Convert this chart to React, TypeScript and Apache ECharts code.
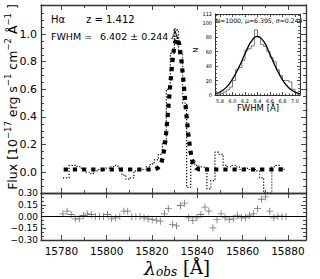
import React, { useEffect, useRef } from "react";
import * as echarts from "echarts";

// ---- data ----
const wavelengths = [
  15780.7, 15782.5, 15784.3, 15786.1, 15787.9, 15789.7, 15791.4, 15793.2, 15795.0, 15796.8,
  15798.6, 15800.4, 15802.2, 15804.0, 15805.8, 15807.6, 15809.3, 15811.1, 15812.9, 15814.7,
  15816.5, 15818.3, 15820.1, 15821.9, 15823.7, 15825.5, 15827.2, 15829.0, 15830.8, 15832.6,
  15834.4, 15836.2, 15838.0, 15839.8, 15841.6, 15843.4, 15845.1, 15846.9, 15848.7, 15850.5,
  15852.3, 15854.1, 15855.9, 15857.7, 15859.5, 15861.3, 15863.0, 15864.8, 15866.6, 15868.4,
  15870.2, 15872.0, 15873.8, 15875.6, 15877.4, 15879.2,
];
const fluxObs = [
  -0.04, -0.04, 0.05, 0.05, 0.04, 0.02, 0.0, -0.01, 0.01, 0.02,
  0.02, 0.03, 0.04, 0.05, 0.03, -0.02, -0.05, -0.04, 0.01, 0.02,
  0.02, 0.04, 0.06, 0.09, 0.13, 0.22, 0.6, 0.86, 1.03, 0.86,
  0.5, -0.11, 0.09, 0.05, 0.04, 0.035, -0.12, -0.06, 0.145, 0.13,
  0.05, 0.04, 0.05, 0.04, 0.02, 0.03, 0.02, 0.02, 0.01, -0.04,
  -0.15, -0.15, 0.04, 0.05, 0.03, 0.02,
];
const residuals = [
  0.034, 0.068, 0.026, -0.03, -0.03, 0.013, 0.034, 0.026, 0, 0,
  0, 0.026, -0.03, -0.017, 0, 0.068, 0.068, 0, 0, 0,
  -0.017, -0.03, -0.04, -0.047, -0.06, 0.034, 0.1, -0.1, -0.12, 0.14,
  0.17, -0.017, -0.05, -0.017, 0.026, 0.12, 0.068, -0.145, -0.04, 0.034,
  -0.017, -0.04, -0.03, 0.017, -0.017, -0.017, 0.017, 0.034, 0.1, 0.22,
  0.25, 0.068, -0.017, 0.004, 0.004, 0,
];
const modelWave = [15781, 15821, 15822.5, 15824, 15825, 15826, 15827, 15828, 15829, 15830, 15831, 15832, 15833, 15834, 15835, 15836, 15837, 15838, 15839.5, 15841, 15878];
const modelFlux = [0.02, 0.02, 0.03, 0.06, 0.12, 0.24, 0.42, 0.62, 0.8, 0.93, 0.97, 0.93, 0.81, 0.64, 0.45, 0.28, 0.15, 0.07, 0.03, 0.02, 0.02];

const xTicks = [15780, 15800, 15820, 15840, 15860, 15880];
const xMinorTicks = [15790, 15810, 15830, 15850, 15870];
const fluxTicks = [0, 0.2, 0.4, 0.6, 0.8, 1.0];
const fluxMinorTicks = [-0.1, -0.05, 0.05, 0.1, 0.15, 0.25, 0.3, 0.35, 0.45, 0.5, 0.55, 0.65, 0.7, 0.75, 0.85, 0.9, 0.95, 1.05, 1.1, 1.15];
const residTicks = [-0.3, -0.15, 0, 0.15, 0.3];
const residMinorTicks = [-0.25, -0.2, -0.1, -0.05, 0.05, 0.1, 0.2, 0.25];

const histEdges = [5.75, 5.8, 5.85, 5.9, 5.95, 6.0, 6.05, 6.1, 6.15, 6.2, 6.25, 6.3, 6.35, 6.4, 6.45, 6.5, 6.55, 6.6, 6.65, 6.7, 6.75, 6.8, 6.85, 6.9, 6.95, 7.0, 7.05];
const histCounts = [1, 2, 4, 7, 11, 20, 35, 38, 48, 62, 64, 68, 90, 80, 70, 67, 60, 52, 46, 35, 27, 20, 20, 18, 8, 3];
const fitX = [5.72, 5.8, 5.9, 6.0, 6.1, 6.2, 6.3, 6.395, 6.5, 6.6, 6.7, 6.8, 6.9, 7.0, 7.08];
const fitY = [1.8, 4.2, 10.5, 22, 38, 57, 74, 81, 74, 56, 37, 21, 10, 4, 1.7];
const insetXTicks = [5.8, 6.0, 6.2, 6.4, 6.6, 6.8, 7.0];
const insetXMinor = [5.75, 5.85, 5.9, 5.95, 6.05, 6.1, 6.15, 6.25, 6.3, 6.35, 6.45, 6.5, 6.55, 6.65, 6.7, 6.75, 6.85, 6.9, 6.95, 7.05];

const FRAME = "#333";
const FONT = "DejaVu Sans";

function axis(o: any): any {
  const showLine = o.line !== false;
  return {
    type: "value",
    gridIndex: o.grid,
    position: o.pos,
    min: o.min,
    max: o.max,
    interval: o.interval,
    axisLine: { show: showLine, onZero: false, lineStyle: { color: FRAME, width: o.lw ?? 1.3 } },
    axisTick: {
      show: true,
      inside: true,
      length: o.len ?? 5,
      customValues: o.ticks,
      lineStyle: { color: FRAME, width: 0.9 },
    },
    minorTick: o.minor ? { show: true, splitNumber: o.minor, length: 2, lineStyle: { color: FRAME, width: 0.8 } } : { show: false },
    axisLabel: o.labels
      ? {
          show: true,
          customValues: o.labelValues,
          fontSize: o.fs ?? 10,
          fontFamily: FONT,
          color: "#000",
          margin: o.margin ?? 4,
          formatter: o.fmt,
        }
      : { show: false },
    splitLine: { show: false },
  };
}

export default function App() {
  const ref = useRef<HTMLDivElement>(null);
  useEffect(() => {
    if (!ref.current) return;
    const chart = echarts.init(ref.current, null, { renderer: "svg" });
    const XMIN = 15771, XMAX = 15888;
    const FMIN = -0.15, FMAX = 1.21;
    const IXMIN = 5.72, IXMAX = 7.08;
    const fmt0 = (v: number) => String(v);
    const fmt1 = (v: number) => v.toFixed(1);
    const fmt2 = (v: number) => v.toFixed(2).replace("-", "\u2212");

    const histData: number[][] = [[histEdges[0], 0]];
    histCounts.forEach((c, i) => histData.push([histEdges[i], c]));
    histData.push([histEdges[histEdges.length - 1], histCounts[histCounts.length - 1]]);
    histData.push([histEdges[histEdges.length - 1], 0]);

    const plusPath = "path://M4.4,0H5.6V4.4H10V5.6H5.6V10H4.4V5.6H0V4.4H4.4Z";

    const option: any = {
      animation: false,
      grid: [
        { left: 41, top: 5, width: 265, height: 188 },
        { left: 41, top: 193, width: 265, height: 47 },
        { left: 215, top: 14, width: 85, height: 81 },
      ],
      xAxis: [
        axis({ grid: 0, pos: "bottom", min: XMIN, max: XMAX, ticks: xTicks }),
        axis({ grid: 0, pos: "top", min: XMIN, max: XMAX, ticks: xTicks }),
        axis({ grid: 1, pos: "bottom", min: XMIN, max: XMAX, ticks: xTicks, labels: true, labelValues: xTicks, fs: 10.5, margin: 5, fmt: fmt0 }),
        axis({ grid: 1, pos: "top", min: XMIN, max: XMAX, ticks: xTicks }),
        axis({ grid: 2, pos: "bottom", min: IXMIN, max: IXMAX, ticks: insetXTicks, labels: true, labelValues: insetXTicks, fs: 5, margin: 3, fmt: fmt1, len: 3, lw: 1 }),
        axis({ grid: 2, pos: "top", min: IXMIN, max: IXMAX, ticks: insetXTicks, len: 3, lw: 1 }),
        // minor ticks
        axis({ grid: 0, pos: "bottom", min: XMIN, max: XMAX, ticks: xMinorTicks, line: false, len: 3 }),
        axis({ grid: 0, pos: "top", min: XMIN, max: XMAX, ticks: xMinorTicks, line: false, len: 3 }),
        axis({ grid: 1, pos: "bottom", min: XMIN, max: XMAX, ticks: xMinorTicks, line: false, len: 3 }),
        axis({ grid: 2, pos: "bottom", min: IXMIN, max: IXMAX, ticks: insetXMinor, line: false, len: 1.5 }),
        axis({ grid: 2, pos: "top", min: IXMIN, max: IXMAX, ticks: insetXMinor, line: false, len: 1.5 }),
      ],
      yAxis: [
        axis({ grid: 0, pos: "left", min: FMIN, max: FMAX, ticks: fluxTicks, labels: true, labelValues: fluxTicks, fs: 11, fmt: fmt1 }),
        axis({ grid: 0, pos: "right", min: FMIN, max: FMAX, ticks: fluxTicks }),
        axis({ grid: 1, pos: "left", min: -0.3, max: 0.3, ticks: residTicks, labels: true, labelValues: residTicks, fs: 9, fmt: fmt2, margin: 3 }),
        axis({ grid: 1, pos: "right", min: -0.3, max: 0.3, ticks: residTicks }),
        axis({ grid: 2, pos: "left", min: 0, max: 112, interval: 20, labels: true, fs: 5, margin: 3, minor: 4, len: 3, lw: 1 }),
        axis({ grid: 2, pos: "right", min: 0, max: 112, interval: 20, minor: 4, len: 3, lw: 1 }),
        // minor ticks
        axis({ grid: 0, pos: "left", min: FMIN, max: FMAX, ticks: fluxMinorTicks, line: false, len: 3 }),
        axis({ grid: 0, pos: "right", min: FMIN, max: FMAX, ticks: fluxMinorTicks, line: false, len: 3 }),
        axis({ grid: 1, pos: "left", min: -0.3, max: 0.3, ticks: residMinorTicks, line: false, len: 3 }),
        axis({ grid: 1, pos: "right", min: -0.3, max: 0.3, ticks: residMinorTicks, line: false, len: 3 }),
      ],
      series: [
        {
          type: "line",
          xAxisIndex: 0,
          yAxisIndex: 0,
          step: "middle",
          showSymbol: false,
          data: wavelengths.map((w, i) => [w, fluxObs[i]]),
          lineStyle: { color: "#000", width: 1.2, type: [1.2, 1.8] },
          z: 2,
        },
        {
          type: "line",
          xAxisIndex: 0,
          yAxisIndex: 0,
          showSymbol: false,
          data: modelWave.map((w, i) => [w, modelFlux[i]]),
          lineStyle: { color: "#000", width: 4.2, type: [4.2, 5], cap: "butt" },
          z: 3,
        },
        {
          type: "scatter",
          xAxisIndex: 2,
          yAxisIndex: 2,
          symbol: plusPath,
          symbolSize: 7,
          itemStyle: { color: "#555" },
          data: wavelengths.map((w, i) => [w, residuals[i]]),
          markLine: {
            silent: true,
            symbol: ["none", "none"],
            label: { show: false },
            lineStyle: { color: "#000", width: 1.2, type: "solid" },
            data: [{ yAxis: 0 }],
          },
        },
        {
          type: "line",
          xAxisIndex: 4,
          yAxisIndex: 4,
          step: "end",
          showSymbol: false,
          data: histData,
          lineStyle: { color: "#777", width: 1 },
        },
        {
          type: "line",
          xAxisIndex: 4,
          yAxisIndex: 4,
          smooth: true,
          showSymbol: false,
          data: fitX.map((x, i) => [x, fitY[i]]),
          lineStyle: { color: "#000", width: 1.3 },
        },
      ],
      graphic: [
        { type: "text", x: 51, y: 19, style: { text: "H\u03b1", fontSize: 10, fontFamily: FONT, fill: "#000", verticalAlign: "middle" } },
        { type: "text", x: 86, y: 19, style: { text: "z = 1.412", fontSize: 10, fontFamily: FONT, fill: "#000", verticalAlign: "middle" } },
        { type: "text", x: 51, y: 36, style: { text: "FWHM =", fontSize: 9.5, fontFamily: FONT, fill: "#000", verticalAlign: "middle" } },
        { type: "text", x: 100, y: 36, style: { text: "6.402 \u00b1 0.244", fontSize: 9.5, fontFamily: FONT, fill: "#000", verticalAlign: "middle" } },
        { type: "text", x: 171, y: 35, style: { text: "\u00c5", fontSize: 11, fontFamily: "DejaVu Serif", fill: "#000", verticalAlign: "middle" } },
        { type: "text", x: 259, y: 20, style: { text: "N=1000, \u03bc=6.395, \u03c3=0.244", fontSize: 6.2, fontFamily: FONT, fill: "#000", align: "center", verticalAlign: "middle" } },
        { type: "text", x: 196, y: 50, rotation: Math.PI / 2, style: { text: "N", fontSize: 7, fontFamily: FONT, fill: "#000", align: "center", verticalAlign: "middle" } },
        { type: "text", x: 258, y: 108, style: { text: "FWHM [\u00c5]", fontSize: 8.5, fontFamily: FONT, fill: "#000", align: "center", verticalAlign: "middle" } },
        {
          type: "text",
          x: 11,
          y: 97,
          rotation: Math.PI / 2,
          style: {
            text: "{n|Flux [10}{s|\u221217}{n| erg s}{s|\u22121}{n| cm}{s|\u22122}{n| \u00c5}{s|\u22121}{n| ]}",
            align: "center",
            verticalAlign: "middle",
            fill: "#000",
            rich: {
              n: { fontSize: 12.5, fontFamily: FONT, lineHeight: 16, verticalAlign: "bottom" },
              s: { fontSize: 8.5, fontFamily: FONT, lineHeight: 16, verticalAlign: "top" },
            },
          },
        },
        {
          type: "text",
          x: 177,
          y: 268,
          style: {
            text: "{l|\u03bb}{o|obs}{n| [\u00c5]}",
            align: "center",
            verticalAlign: "middle",
            fill: "#000",
            rich: {
              l: { fontSize: 19, fontFamily: "DejaVu Serif", fontStyle: "italic", lineHeight: 20, verticalAlign: "top" },
              o: { fontSize: 12, fontFamily: "DejaVu Serif", fontStyle: "italic", lineHeight: 20, verticalAlign: "bottom" },
              n: { fontSize: 18, fontFamily: "DejaVu Serif", lineHeight: 20, verticalAlign: "top" },
            },
          },
        },
      ],
    };
    chart.setOption(option);
    return () => chart.dispose();
  }, []);
  return <div ref={ref} style={{ position: "absolute", left: 0, top: 0, width: 320, height: 279 }} />;
}
